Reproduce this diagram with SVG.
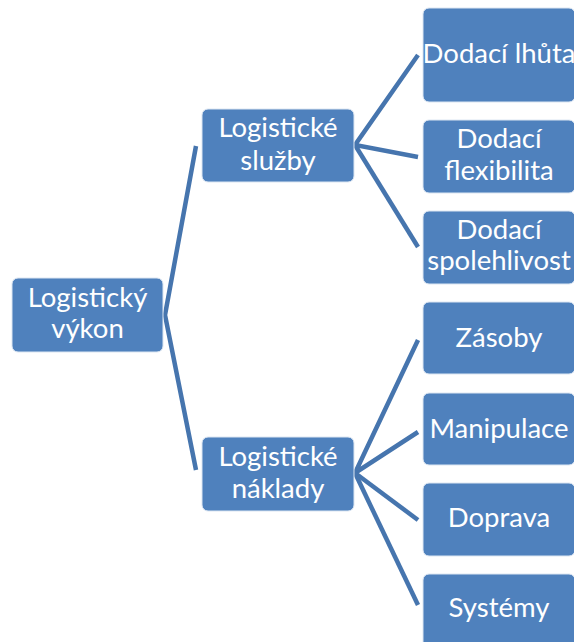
<svg xmlns="http://www.w3.org/2000/svg" width="574" height="642" viewBox="0 0 574 642">
<style>
.box{fill:#4F81BD;stroke:#DCE6F2;stroke-width:1}
.t{font-family:Lato,"Open Sans","Liberation Sans",sans-serif;font-size:27.5px;fill:#ffffff;text-anchor:middle}
.c{fill:none;stroke:#4675AE;stroke-width:4.5;stroke-linejoin:miter}
</style>
<rect width="574" height="642" fill="#ffffff"/>
<g id="connectors">
<polyline class="c" points="196,146 165,315 196,470"/>
<polyline class="c" points="418,55 355,145 418,157"/>
<polyline class="c" points="355,145 418,247"/>
<polyline class="c" points="418,340 355,473 418,432"/>
<polyline class="c" points="355,473 418,520"/>
<polyline class="c" points="355,473 418,605"/>
</g>
<g id="n-root"><rect class="box" x="12" y="278" width="151" height="74" rx="6"/><text class="t" x="87.5" y="307">Logistický</text><text class="t" x="87.5" y="338">výkon</text></g>
<g id="n-sluzby"><rect class="box" x="202" y="109" width="152" height="73" rx="6"/><text class="t" x="278" y="137">Logistické</text><text class="t" x="278" y="170">služby</text></g>
<g id="n-naklady"><rect class="box" x="202" y="437" width="152" height="74" rx="6"/><text class="t" x="278" y="466">Logistické</text><text class="t" x="278" y="498">náklady</text></g>
<g id="n-lhuta"><rect class="box" x="423" y="8" width="152" height="94" rx="6"/><text class="t" x="499" y="63">Dodací lhůta</text></g>
<g id="n-flex"><rect class="box" x="423" y="120" width="152" height="73" rx="6"/><text class="t" x="499" y="148">Dodací</text><text class="t" x="499" y="180">flexibilita</text></g>
<g id="n-spol"><rect class="box" x="423" y="211" width="152" height="73" rx="6"/><text class="t" x="499" y="239">Dodací</text><text class="t" x="499" y="270">spolehlivost</text></g>
<g id="n-zasoby"><rect class="box" x="423" y="302" width="152" height="72" rx="6"/><text class="t" x="499" y="347">Zásoby</text></g>
<g id="n-manip"><rect class="box" x="423" y="393" width="152" height="72" rx="6"/><text class="t" x="499" y="438">Manipulace</text></g>
<g id="n-doprava"><rect class="box" x="423" y="483" width="152" height="73" rx="6"/><text class="t" x="499" y="527">Doprava</text></g>
<g id="n-systemy"><rect class="box" x="423" y="574" width="152" height="80" rx="6"/><text class="t" x="499" y="617">Systémy</text></g>
</svg>
